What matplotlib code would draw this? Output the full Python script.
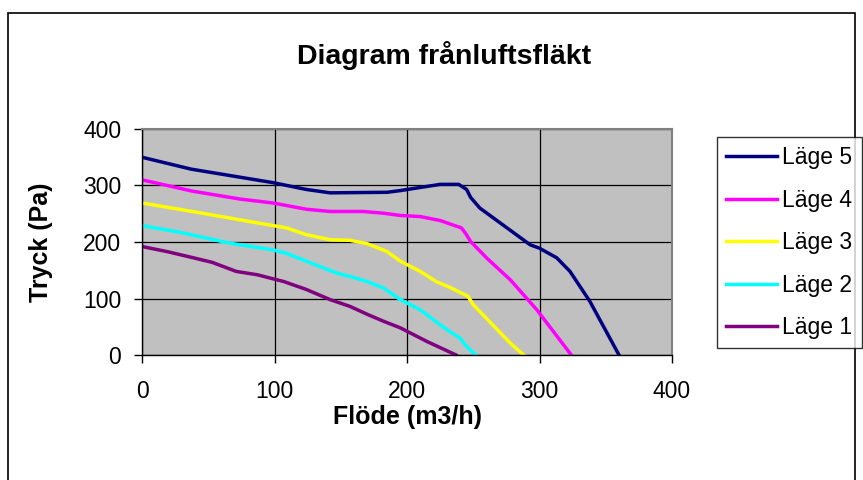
import matplotlib
matplotlib.use("Agg")
from matplotlib import pyplot as plt
from matplotlib.patches import Rectangle

plt.rcParams['font.family'] = ['Liberation Sans', 'DejaVu Sans']

# fan curves: flow (m3/h) and pressure (Pa)
x5 = [0, 37, 99, 124, 142, 185, 195, 225, 239, 245, 248, 255, 293, 300, 313, 323, 338, 360]
y5 = [350, 329, 305, 293, 287, 288, 291, 302, 302, 293, 279, 260, 195, 189, 172, 148, 95, 0]

x4 = [0, 38, 74, 99, 124, 142, 167, 182, 195, 210, 225, 241, 244, 248, 260, 278, 298, 324]
y4 = [310, 290, 276, 269, 258, 254, 254, 251, 247, 245, 238, 225, 216, 201, 172, 133, 80, 0]

x3 = [0, 38, 99, 109, 124, 142, 157, 170, 185, 195, 210, 222, 233, 246, 250, 278, 288]
y3 = [269, 254, 229, 225, 213, 204, 203, 197, 183, 166, 148, 130, 119, 104, 89, 21, 0]

x2 = [0, 29, 66, 99, 109, 124, 147, 157, 170, 182, 195, 210, 230, 240, 245, 252]
y2 = [229, 217, 198, 186, 180, 166, 145, 139, 130, 119, 98, 80, 45, 30, 15, 0]

x1 = [0, 19, 37, 53, 71, 87, 107, 124, 142, 157, 170, 182, 195, 215, 237]
y1 = [192, 183, 173, 164, 148, 142, 130, 116, 98, 86, 72, 60, 48, 24, 0]

series = [
    ("Läge 5", x5, y5, "#000080"),
    ("Läge 4", x4, y4, "#FF00FF"),
    ("Läge 3", x3, y3, "#FFFF00"),
    ("Läge 2", x2, y2, "#00FFFF"),
    ("Läge 1", x1, y1, "#800080"),
]

fig = plt.figure(figsize=(8.63, 4.80), dpi=100)
ax = fig.add_axes([142 / 863, 1 - 355 / 480, (672 - 142) / 863, (355 - 129) / 480])
ax.set_facecolor("#C0C0C0")

for name, xs, ys, col in series:
    ax.plot(xs, ys, color=col, lw=2.5, label=name, solid_joinstyle="round")

ax.set_xlim(0, 400)
ax.set_ylim(0, 400)
ax.set_xticks([0, 100, 200, 300, 400])
ax.set_yticks([0, 100, 200, 300, 400])
ax.grid(True, color="black", lw=0.9)
ax.set_axisbelow(True)
for s in ax.spines.values():
    s.set_color("#808080")
    s.set_linewidth(1.5)
ax.spines["left"].set_color("black")
ax.spines["bottom"].set_color("black")
ax.spines["left"].set_linewidth(1)
ax.spines["bottom"].set_linewidth(1)
ax.tick_params(direction="out", length=6, width=1, labelsize=16.5, color="black")
ax.tick_params(axis="x", pad=12)
ax.tick_params(axis="y", pad=9)

ax.set_xlabel("Flöde (m3/h)", fontsize=18, fontweight="bold")
ax.set_ylabel("Tryck (Pa)", fontsize=18, fontweight="bold")
ax.xaxis.set_label_coords(0.5, -0.275)
ax.xaxis.label.set_va("center")
ax.yaxis.set_label_coords(-0.19, 0.5)
ax.yaxis.label.set_va("center")

fig.text(444 / 863, 1 - 55 / 480, "Diagram frånluftsfläkt", ha="center", va="center",
         fontsize=20.5, fontweight="bold")

leg = fig.legend(loc="upper left", bbox_to_anchor=(717 / 863, 1 - 137 / 480),
                 fontsize=16.5, frameon=True, fancybox=False, edgecolor="black",
                 handlelength=2.2, handletextpad=0.25, labelspacing=0.85,
                 borderpad=0.4, borderaxespad=0)
leg.get_frame().set_linewidth(1)
for h in leg.get_lines():
    h.set_linewidth(2.5)

# outer chart border
fig.patches.append(Rectangle((8 / 863, -0.05), (855 - 8) / 863, 1.05 - 13 / 480,
                             transform=fig.transFigure, fill=False,
                             edgecolor="black", lw=1.2))

fig.savefig("out.png", dpi=100)
